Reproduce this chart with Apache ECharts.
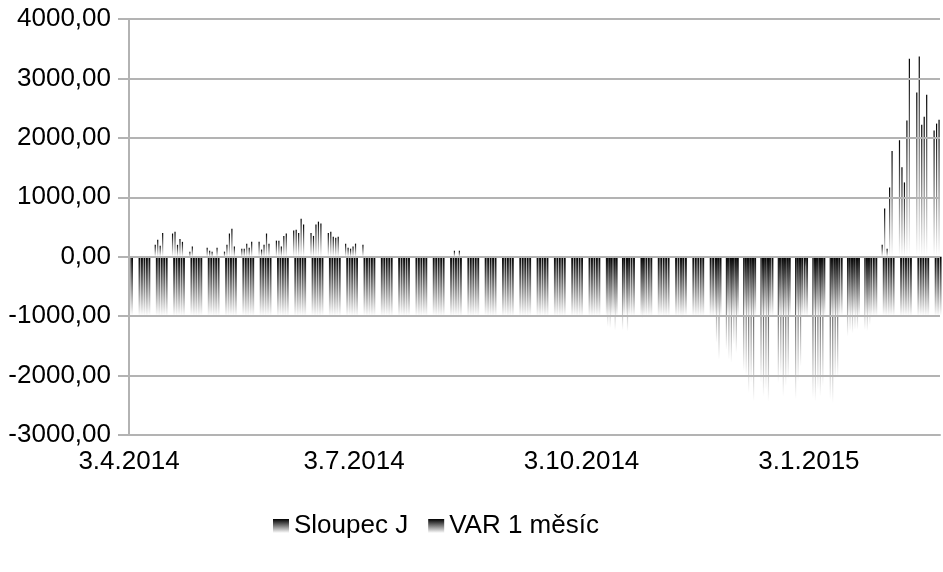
<!DOCTYPE html>
<html><head><meta charset="utf-8">
<script src="https://cdn.jsdelivr.net/npm/echarts@6/dist/echarts.min.js"></script>
<style>html,body{margin:0;padding:0;background:#fff}#c{width:943px;height:572px}</style>
</head><body><div id="c"></div>
<script>
// ---- data ----
const startDate = '2014-04-03';   // first trading day (Thu)
const endDate = '2015-02-25';     // last trading day (Wed)
const xTickDates = ['2014-04-03', '2014-07-03', '2014-10-03', '2015-01-03'];
const yMin = -3000, yMax = 4000, yStep = 1000;
const seriesNames = ['Sloupec J', 'VAR 1 měsíc'];

// VAR 1 měsíc: one value per weekday from startDate to endDate (one row per week)
const varValues = [
  // Apr 3-4
  -1000, -990,
  // April weeks (7, 14, 21, 28)
  -1000, -990, -1000, -1000, -990,
  -990, -1000, -1000, -990, -1000,
  -1000, -1000, -990, -1000, -1000,
  -990, -1000, -1000, -1000, -990,
  // May (5, 12, 19, 26)
  -1000, -990, -1000, -1000, -1000,
  -1000, -1000, -990, -1000, -1000,
  -990, -1000, -1000, -990, -1000,
  -1000, -1000, -1000, -990, -1000,
  // June (2, 9, 16, 23, 30)
  -1000, -990, -1000, -1000, -1000,
  -1000, -1000, -990, -1000, -1000,
  -990, -1000, -1000, -1000, -990,
  -1000, -1000, -1000, -990, -1000,
  -1000, -990, -1000, -1000, -1000,
  // July (7, 14, 21, 28)
  -990, -1000, -1000, -1000, -1000,
  -1000, -1000, -990, -1000, -1000,
  -1000, -990, -1000, -1000, -990,
  -1000, -1000, -1000, -990, -1000,
  // August (4, 11, 18, 25)
  -990, -1000, -1000, -1000, -1000,
  -1000, -1000, -990, -1000, -1000,
  -1000, -1000, -1000, -990, -1000,
  -990, -1000, -1000, -1000, -1000,
  // September (1, 8, 15, 22, 29)
  -1000, -990, -1000, -1000, -1000,
  -1000, -1000, -1000, -1000, -990,
  -1000, -1000, -990, -1000, -1000,
  -1000, -1000, -1000, -1000, -1000,
  -1000, -990, -1000, -1000, -1000,
  // October (6, 13, 20, 27)
  -1000, -1000, -1000, -990, -1000,
  -1000, -1000, -1000, -1000, -1000,
  -1000, -1000, -990, -1000, -1000,
  -1000, -1000, -1000, -1000, -1000,
  // November (3, 10, 17, 24)
  -1000, -990, -1000, -1000, -1000,
  -1000, -1000, -1000, -1000, -990,
  -1000, -1000, -1000, -1000, -1000,
  -1000, -1000, -990, -1000, -1000,
  // December (1, 8, 15, 22, 29)
  -1000, -1000, -1000, -1000, -1000,
  -990, -1000, -1000, -1000, -1000,
  -1000, -1000, -1000, -990, -1000,
  -1000, -1000, -1000, -1000, -1000,
  -1000, -990, -1000, -1000, -1000,
  // January (5, 12, 19, 26)
  -1000, -1000, -1000, -1000, -1000,
  -990, -1000, -1000, -1000, -990,
  -1000, -1000, -990, -1000, -1000,
  -1000, -990, -1000, -1000, -1000,
  // February (2, 9, 16)
  -990, -1000, -1000, -990, -1000,
  -1000, -1000, -990, -1000, -1000,
  -1000, -990, -1000, -1000, -1000,
  // Feb 23-25
  -1000, -1000, -990
];

// Sloupec J: values on the days where a bar is visible
const jDates = [
  '2014-04-14','2014-04-15','2014-04-16','2014-04-17',
  '2014-04-21','2014-04-22','2014-04-23','2014-04-24','2014-04-25',
  '2014-04-28','2014-04-29',
  '2014-05-05','2014-05-06','2014-05-07','2014-05-09',
  '2014-05-12','2014-05-13','2014-05-14','2014-05-15','2014-05-16',
  '2014-05-19','2014-05-20','2014-05-21','2014-05-22','2014-05-23',
  '2014-05-26','2014-05-27','2014-05-28','2014-05-29','2014-05-30',
  '2014-06-02','2014-06-03','2014-06-04','2014-06-05','2014-06-06',
  '2014-06-09','2014-06-10','2014-06-11','2014-06-12','2014-06-13',
  '2014-06-16','2014-06-17','2014-06-18','2014-06-19','2014-06-20',
  '2014-06-23','2014-06-24','2014-06-25','2014-06-26','2014-06-27',
  '2014-06-30','2014-07-01','2014-07-02','2014-07-03','2014-07-04',
  '2014-07-07',
  '2014-08-13','2014-08-15',
  '2014-10-14','2014-10-15','2014-10-17','2014-10-20','2014-10-22',
  '2014-10-28','2014-11-13',
  '2014-11-27','2014-11-28',
  '2014-12-01','2014-12-02','2014-12-03','2014-12-04','2014-12-05',
  '2014-12-08','2014-12-09','2014-12-10','2014-12-11','2014-12-12',
  '2014-12-15','2014-12-16','2014-12-17','2014-12-18',
  '2014-12-22','2014-12-23','2014-12-24','2014-12-25','2014-12-26',
  '2014-12-29','2014-12-30','2014-12-31','2015-01-02',
  '2015-01-05','2015-01-06','2015-01-07','2015-01-08','2015-01-09',
  '2015-01-12','2015-01-13','2015-01-14','2015-01-15',
  '2015-01-19','2015-01-20','2015-01-21','2015-01-22','2015-01-23',
  '2015-01-26','2015-01-27','2015-01-28',
  '2015-02-02','2015-02-03','2015-02-04','2015-02-05','2015-02-06',
  '2015-02-09','2015-02-10','2015-02-11','2015-02-12','2015-02-13',
  '2015-02-16','2015-02-17','2015-02-18','2015-02-19','2015-02-20',
  '2015-02-23','2015-02-24','2015-02-25'
];
const jValues = [
  200, 285, 185, 400,
  390, 420, 200, 300, 250,
  85, 170,
  150, 100, 85, 150,
  85, 200, 390, 470, 170,
  135, 135, 220, 150, 250,
  250, 120, 200, 390, 220,
  270, 270, 170, 350, 390,
  440, 455, 400, 640, 540,
  400, 350, 540, 590, 560,
  400, 420, 335, 320, 335,
  220, 150, 135, 170, 220,
  200,
  100, 100,
  -1180, -1200, -1235, -1235, -1260,
  -1040, -1040,
  -1450, -1730,
  -1565, -1730, -1785, -1480, -1620,
  -1930, -2000, -2290, -2120, -2435,
  -2120, -2350, -2240, -2435,
  -2120, -2000, -2350, -2180, -2060,
  -2400, -2100, -1845, -170,
  -2380, -2435, -2240, -2350, -2180,
  -2400, -2460, -2060, -2030,
  -1340, -1250, -1290, -1230, -1230,
  -1230, -1250, -1150,
  200, 810, 135, 1165, 1780,
  1960, 1505, 1250, 2290, 3330,
  2765, 3370, 2220, 2355, 2725,
  2125, 2240, 2305
];

// ---- build ----
function ts(s) { const p = s.split('-').map(Number); return new Date(p[0], p[1] - 1, p[2]).getTime(); }
function weekdaysBetween(a, b) {
  const out = []; const d = new Date(ts(a)); const end = ts(b);
  while (d.getTime() <= end) {
    const w = d.getDay();
    if (w !== 0 && w !== 6) out.push(d.getTime());
    d.setDate(d.getDate() + 1);
  }
  return out;
}
const days = weekdaysBetween(startDate, endDate);
const varData = days.map((t, i) => [t, varValues[i]]);
const jData = jDates.map((s, i) => [ts(s), jValues[i]]);

const grad = () => new echarts.graphic.LinearGradient(0, 0, 0, 1, [
  { offset: 0, color: '#000000' }, { offset: 1, color: '#ffffff' }
]);
const FONT = 'Liberation Sans';
const FS = 26;
const chart = echarts.init(document.getElementById('c'), null, { renderer: 'canvas' });
chart.setOption({
  animation: false,
  backgroundColor: '#ffffff',
  grid: { left: 129, right: 3, top: 19, bottom: 137, outerBoundsMode: 'none' },
  legend: {
    data: seriesNames, left: 268, top: 508, icon: 'rect', itemWidth: 16, itemHeight: 14, itemGap: 20,
    textStyle: { fontFamily: FONT, fontSize: FS, color: '#000' }
  },
  xAxis: {
    type: 'value', min: ts(startDate), max: ts(endDate), scale: true, z: 3,
    axisLine: { onZero: false, lineStyle: { color: '#b3b3b3', width: 2 } },
    axisTick: { show: false },
    splitLine: { show: false },
    axisLabel: {
      customValues: xTickDates.map(ts), showMinLabel: true, showMaxLabel: true, hideOverlap: false,
      margin: 14, fontFamily: FONT, fontSize: FS, color: '#000',
      formatter: v => { const d = new Date(v); return d.getDate() + '.' + (d.getMonth() + 1) + '.' + d.getFullYear(); }
    }
  },
  yAxis: {
    type: 'value', min: yMin, max: yMax, interval: yStep, z: 3,
    axisLine: { show: true, lineStyle: { color: '#b3b3b3', width: 2 } },
    axisTick: { show: true, inside: false, length: 11, lineStyle: { color: '#b3b3b3', width: 2 } },
    splitLine: { show: true, lineStyle: { color: '#b3b3b3', width: 2 } },
    axisLabel: {
      margin: 18, fontFamily: FONT, fontSize: FS, color: '#000',
      formatter: v => v.toFixed(2).replace('.', ',')
    }
  },
  series: [
    { name: seriesNames[0], type: 'bar', data: jData, barWidth: 1.2, barGap: '0%', itemStyle: { color: grad() } },
    { name: seriesNames[1], type: 'bar', data: varData, barWidth: 1.9, barGap: '0%', itemStyle: { color: grad() } }
  ]
});
</script></body></html>
